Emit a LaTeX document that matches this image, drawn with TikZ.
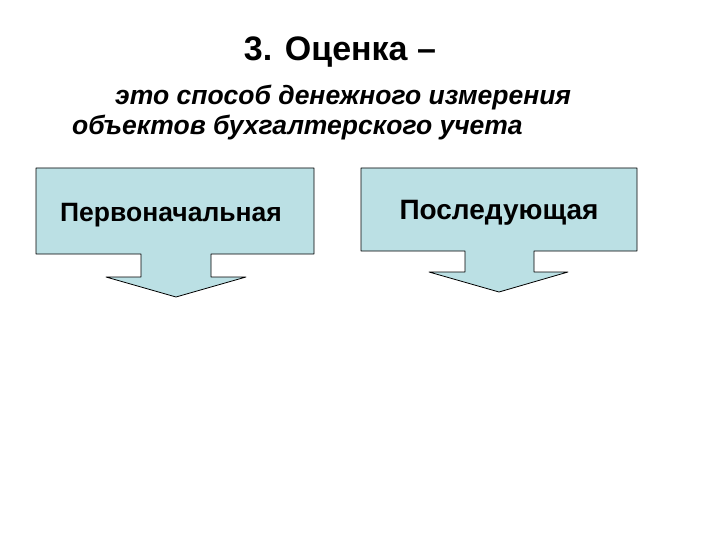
\documentclass[tikz,border=0pt]{standalone}
\usepackage{fontspec}
\setmainfont{Liberation Sans}
\usepackage{tikz}
\usepackage{tkz-euclide}
\definecolor{boxfill}{RGB}{187,224,228}

\begin{document}
\begin{tikzpicture}[x=1pt,y=-1pt,
    boxtext/.style={anchor=base,inner sep=0pt},
    deftext/.style={anchor=base west,inner sep=0pt,font=\fontsize{26.5}{30}\selectfont\bfseries\itshape}]
    \useasboundingbox (0,0) rectangle (720,540);

    \tkzDefPoints{36/168/P1,314/168/P2,314/254/P3,211/254/P4,211/277/P5,246/277/P6,176/297/P7,106/277/P8,141/277/P9,141/254/P10,36/254/P11}
    \tkzDrawPolygon[fill=boxfill,line width=0.8pt](P1,P2,P3,P4,P5,P6,P7,P8,P9,P10,P11)

    \tkzDefPoints{361/168/S1,637/168/S2,637/251/S3,534/251/S4,534/272/S5,568/272/S6,499/292/S7,429/272/S8,465/272/S9,465/251/S10,361/251/S11}
    \tkzDrawPolygon[fill=boxfill,line width=0.8pt](S1,S2,S3,S4,S5,S6,S7,S8,S9,S10,S11)

    \node[anchor=base,inner sep=0pt,font=\fontsize{34}{40}\selectfont\bfseries] (title) at (340,61) {3. Оценка --};
    \node[deftext] (def1) at (115,105) {это способ денежного измерения};
    \node[deftext] (def2) at (72,135) {объектов бухгалтерского учета};

    \node[boxtext,font=\fontsize{26.5}{30}\selectfont\bfseries] (first) at (171,222) {Первоначальная};
    \node[boxtext,font=\fontsize{28}{32}\selectfont\bfseries] (next) at (499,219) {Последующая};
\end{tikzpicture}
\end{document}
